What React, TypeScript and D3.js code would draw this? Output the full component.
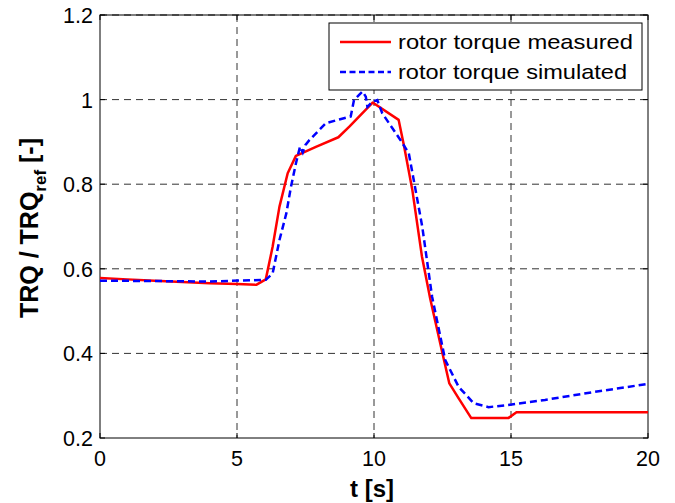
import React from "react";
import * as d3 from "d3";

const measuredT = [0, 1, 2, 3, 4, 5, 5.7, 6.05, 6.3, 6.55, 6.85, 7.15, 7.9, 8.7, 9.1, 9.95, 10.9, 11.1, 11.4, 11.75, 12.05, 12.5, 12.75, 13.05, 13.55, 14.9, 15.2, 20];
const measuredV = [0.578, 0.575, 0.572, 0.569, 0.566, 0.564, 0.562, 0.575, 0.652, 0.747, 0.826, 0.867, 0.889, 0.911, 0.936, 0.993, 0.952, 0.889, 0.786, 0.629, 0.53, 0.4, 0.329, 0.298, 0.247, 0.247, 0.261, 0.261];

const simulatedT = [0, 2, 4, 6.05, 6.3, 6.55, 6.8, 6.97, 7.15, 7.3, 7.4, 7.5, 7.64, 8.24, 8.73, 9.15, 9.27, 9.58, 9.7, 9.76, 9.94, 10.12, 10.3, 10.55, 10.97, 11.27, 11.45, 11.76, 12.12, 12.6, 13.09, 13.64, 14.18, 14.9, 16.24, 18.06, 20];
const simulatedV = [0.572, 0.571, 0.57, 0.574, 0.589, 0.668, 0.731, 0.794, 0.849, 0.889, 0.875, 0.893, 0.904, 0.944, 0.953, 0.96, 0.999, 1.019, 1.007, 0.983, 0.995, 0.999, 0.968, 0.944, 0.904, 0.873, 0.81, 0.7, 0.534, 0.384, 0.321, 0.282, 0.273, 0.278, 0.29, 0.309, 0.328];

const xTicks = [0, 5, 10, 15, 20];
const yTicks = [0.2, 0.4, 0.6, 0.8, 1, 1.2];
const legendLabels = ["rotor torque measured", "rotor torque simulated"];

export default function App() {
  const L = 100, R = 648, T = 15, B = 438;
  const x = d3.scaleLinear().domain([0, 20]).range([L, R]);
  const y = d3.scaleLinear().domain([0.2, 1.2]).range([B, T]);
  const line = d3.line<[number, number]>().x(d => x(d[0])).y(d => y(d[1]));
  const mData = measuredT.map((t, i) => [t, measuredV[i]] as [number, number]);
  const sData = simulatedT.map((t, i) => [t, simulatedV[i]] as [number, number]);
  const font = "Liberation Sans, Arial, Helvetica, sans-serif";

  return (
    <svg width={675} height={503} style={{ position: "absolute", left: 0, top: 0, background: "#fff" }} fontFamily={font}>
      <rect x={0} y={0} width={675} height={503} fill="#fff" />
      {/* grid */}
      {xTicks.slice(1, -1).map(t => (
        <line key={"gx" + t} x1={x(t)} x2={x(t)} y1={T} y2={B} stroke="#333" strokeWidth={1} strokeDasharray="7,5" />
      ))}
      {yTicks.slice(1, -1).map(v => (
        <line key={"gy" + v} x1={L} x2={R} y1={y(v)} y2={y(v)} stroke="#333" strokeWidth={1} strokeDasharray="7,5" />
      ))}
      <line x1={L} x2={R} y1={T} y2={T} stroke="#222" strokeWidth={1} strokeDasharray="7,5" />
      {/* box */}
      <rect x={L} y={T} width={R - L} height={B - T} fill="none" stroke="#000" strokeWidth={1} />
      {/* ticks */}
      {xTicks.map(t => (
        <g key={"tx" + t}>
          <line x1={x(t)} x2={x(t)} y1={B} y2={B - 5} stroke="#000" />
          <line x1={x(t)} x2={x(t)} y1={T} y2={T + 5} stroke="#000" />
          <text x={x(t)} y={466} textAnchor="middle" fontSize={21.5} fill="#000">{t}</text>
        </g>
      ))}
      {yTicks.map(v => (
        <g key={"ty" + v}>
          <line x1={L} x2={L + 5} y1={y(v)} y2={y(v)} stroke="#000" />
          <line x1={R} x2={R - 5} y1={y(v)} y2={y(v)} stroke="#000" />
          <text x={93} y={y(v) + 8} textAnchor="end" fontSize={21.5} fill="#000">{String(v)}</text>
        </g>
      ))}
      {/* data */}
      <path d={line(mData) || ""} fill="none" stroke="#ff0000" strokeWidth={2.5} strokeLinejoin="round" />
      <path d={line(sData) || ""} fill="none" stroke="#0000ff" strokeWidth={2.5} strokeDasharray="7,4" />
      {/* legend */}
      <rect x={329} y={23} width={313} height={67} fill="#fff" stroke="#000" strokeWidth={1} />
      <line x1={340} x2={391} y1={42} y2={42} stroke="#ff0000" strokeWidth={2.5} />
      <line x1={340} x2={391} y1={72} y2={72} stroke="#0000ff" strokeWidth={2.5} strokeDasharray="6,3.5" />
      <text x={398} y={49} fontSize={21} fill="#000" textLength={235} lengthAdjust="spacingAndGlyphs">{legendLabels[0]}</text>
      <text x={398} y={79} fontSize={21} fill="#000" textLength={229} lengthAdjust="spacingAndGlyphs">{legendLabels[1]}</text>
      {/* axis labels */}
      <text x={372} y={497} textAnchor="middle" fontSize={24} fontWeight="bold" fill="#000">t [s]</text>
      <text transform="translate(38,228) rotate(-90)" textAnchor="middle" fontSize={25} fontWeight="bold" fill="#000">
        TRQ / TRQ<tspan fontSize={17} dy={8}>ref</tspan><tspan dy={-8}> [-]</tspan>
      </text>
    </svg>
  );
}
